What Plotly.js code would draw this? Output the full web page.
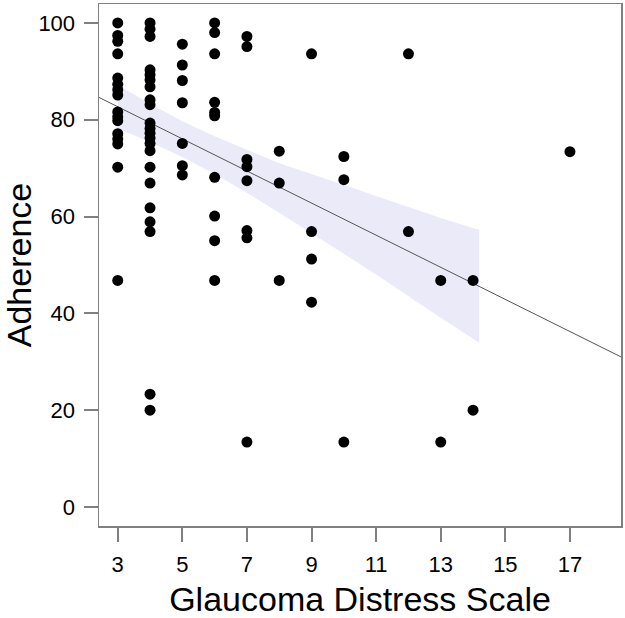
<!DOCTYPE html>
<html>
<head>
<meta charset="utf-8">
<script src="https://cdn.plot.ly/plotly-3.0.1.min.js"></script>
<style>
  html, body { margin: 0; padding: 0; background: #ffffff; }
  #chart { width: 625px; height: 618px; }
</style>
</head>
<body>
<div id="chart"></div>
<script>
// Glaucoma Distress Scale score (x) and Adherence (%) (y) for each patient
const gdsScore = [
  3,3,3,3,3,3,3,3,3,3,3,3,3,3,3,3,
  4,4,4,4,4,4,4,4,4,4,4,4,4,4,4,4,4,4,4,4,4,4,
  5,5,5,5,5,5,5,
  6,6,6,6,6,6,6,6,6,6,
  7,7,7,7,7,7,7,7,
  8,8,8,
  9,9,9,9,
  10,10,10,
  12,12,
  13,13,
  14,14,
  17
];
const adherence = [
  100,97.4,96.2,93.6,88.6,87.3,86.2,85.1,81.6,80.6,79.8,77.1,76,75,70.2,46.8,
  100,98.7,97.2,90.3,89.3,88.2,86.8,84.1,83.1,79.3,78.2,77.2,76.2,75.1,73.6,70.2,66.9,61.8,58.9,56.9,23.3,20.0,
  95.6,91.3,88.1,83.5,75.1,70.5,68.6,
  100,98,93.6,83.6,81.5,80.8,68.1,60.1,55,46.8,
  97.2,95.1,71.8,70.3,67.4,57.1,55.6,13.4,
  73.5,66.9,46.8,
  93.6,56.9,51.2,42.3,
  72.4,67.6,13.4,
  93.6,56.9,
  46.8,13.4,
  46.8,20.0,
  73.4
];

// Fitted regression line (at the plot edges)
const fitX = [2.42, 18.58];
const fitY = [84.6, 31.0];

// Confidence band of the fit
const bandX = [3, 4, 5, 6, 7, 8, 9, 10, 11, 12, 13, 14.19];
const bandUpper = [87.1, 83.3, 79.7, 76.6, 73.8, 71.0, 68.8, 66.5, 64.2, 62.0, 59.7, 57.2];
const bandLower = [78.2, 75.4, 72.3, 68.8, 64.9, 60.8, 56.6, 52.3, 48.0, 43.6, 39.1, 33.9];

// Axis ticks
const xTicks = [3, 5, 7, 9, 11, 13, 15, 17];
const yTicks = [0, 20, 40, 60, 80, 100];

const FONT = 'Liberation Sans, Arial, sans-serif';

const traces = [
  {
    x: bandX.concat(bandX.slice().reverse()),
    y: bandUpper.concat(bandLower.slice().reverse()),
    type: 'scatter', mode: 'lines', fill: 'toself',
    fillcolor: '#eaeaf8', line: { width: 0, color: 'rgba(0,0,0,0)' },
    hoverinfo: 'skip', showlegend: false
  },
  {
    x: fitX, y: fitY, type: 'scatter', mode: 'lines',
    line: { color: '#555555', width: 1 }, showlegend: false
  },
  {
    x: gdsScore, y: adherence, type: 'scatter', mode: 'markers',
    marker: { color: '#000000', size: 11 }, showlegend: false
  }
];

const layout = {
  width: 625, height: 618,
  margin: { l: 99, r: 4, t: 4, b: 92 },
  paper_bgcolor: '#ffffff', plot_bgcolor: '#ffffff',
  font: { family: FONT, color: '#000000' },
  xaxis: {
    range: [2.42, 18.58], tickvals: xTicks, ticktext: xTicks.map(String),
    showgrid: false, zeroline: false,
    showline: true, linecolor: '#808080', linewidth: 1.5, mirror: true,
    ticks: 'outside', ticklen: 14, tickwidth: 2, tickcolor: '#808080',
    ticklabelstandoff: 4,
    tickfont: { family: FONT, size: 22, color: '#000000' },
    title: { text: 'Glaucoma Distress Scale', font: { family: FONT, size: 34, color: '#000000' }, standoff: 18 },
    automargin: false
  },
  yaxis: {
    range: [-3.93, 103.9], tickvals: yTicks, ticktext: yTicks.map(String),
    showgrid: false, zeroline: false,
    showline: true, linecolor: '#808080', linewidth: 1.5, mirror: true,
    ticks: 'outside', ticklen: 14, tickwidth: 2, tickcolor: '#808080',
    ticklabelstandoff: 4,
    tickfont: { family: FONT, size: 22, color: '#000000' },
    title: { text: 'Adherence', font: { family: FONT, size: 34, color: '#000000' }, standoff: 4 },
    automargin: false
  },
  showlegend: false
};

Plotly.newPlot('chart', traces, layout, { displayModeBar: false, staticPlot: true });
</script>
</body>
</html>
